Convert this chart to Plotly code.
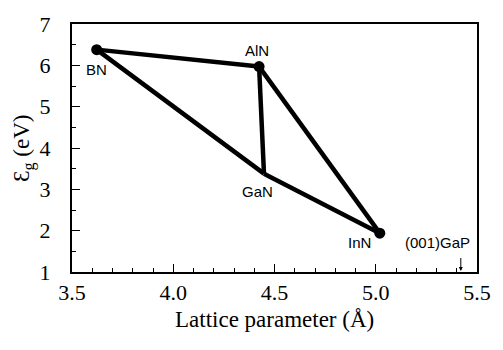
import plotly.graph_objects as go

# Data
materials = ["BN", "AlN", "GaN", "InN"]
lattice = [3.622, 4.424, 4.448, 5.020]
gap = [6.38, 5.97, 3.38, 1.94]
dot_materials = ["BN", "AlN", "InN"]
edges = [("BN", "AlN"), ("AlN", "InN"), ("InN", "GaN"), ("GaN", "BN"), ("AlN", "GaN")]
gap_substrate_label = "(001)GaP"
gap_substrate_a = 5.42

idx = {m: i for i, m in enumerate(materials)}

fig = go.Figure()
ex, ey = [], []
for a, b in edges:
    ex += [lattice[idx[a]], lattice[idx[b]], None]
    ey += [gap[idx[a]], gap[idx[b]], None]
fig.add_trace(go.Scatter(x=ex, y=ey, mode="lines",
                         line=dict(color="black", width=4.5), showlegend=False,
                         hoverinfo="skip"))
fig.add_trace(go.Scatter(x=[lattice[idx[m]] for m in dot_materials],
                         y=[gap[idx[m]] for m in dot_materials],
                         mode="markers", marker=dict(color="black", size=11),
                         showlegend=False))

label_shift = {"BN": (0, -20), "AlN": (-2, 16), "GaN": (-6, -18), "InN": (-20, -9)}
for m in materials:
    dx, dy = label_shift[m]
    fig.add_annotation(x=lattice[idx[m]], y=gap[idx[m]], text=m, showarrow=False,
                       xshift=dx, yshift=dy,
                       font=dict(family="Liberation Sans, Arial", size=15, color="black"))

fig.add_annotation(x=gap_substrate_a, y=1, ax=0, ay=-17, text=" ", showarrow=True,
                   arrowhead=2, arrowsize=0.8, arrowwidth=1, arrowcolor="black",
                   standoff=1, font=dict(size=2))
fig.add_annotation(x=gap_substrate_a, y=1, text=gap_substrate_label, showarrow=False,
                   xshift=-23, yshift=30,
                   font=dict(family="Liberation Sans, Arial", size=15, color="black"))

serif = "Liberation Serif, Times New Roman, serif"
fig.update_xaxes(range=[3.5, 5.5], tickvals=[3.5, 4.0, 4.5, 5.0, 5.5],
                 ticktext=["3.5", "4.0", "4.5", "5.0", "5.5"],
                 ticks="inside", ticklen=8, tickwidth=1, tickcolor="black",
                 minor=dict(dtick=0.1, ticks="inside", ticklen=4, tickcolor="black"),
                 showline=True, linecolor="black", linewidth=2, mirror=True,
                 showgrid=False, zeroline=False,
                 tickfont=dict(family=serif, size=22, color="black"))
fig.update_yaxes(range=[1, 7], tickvals=[1, 2, 3, 4, 5, 6, 7],
                 ticks="inside", ticklen=8, tickwidth=1, tickcolor="black",
                 minor=dict(dtick=0.5, ticks="inside", ticklen=4, tickcolor="black"),
                 showline=True, linecolor="black", linewidth=2, mirror=True,
                 showgrid=False, zeroline=False, ticklabelstandoff=15,
                 tickfont=dict(family=serif, size=22, color="black"))

fig.add_annotation(xref="paper", yref="paper", x=0.5, y=-0.19, yanchor="middle",
                   text="Lattice parameter (Å)", showarrow=False,
                   font=dict(family=serif, size=23, color="black"))
fig.add_annotation(xref="paper", yref="paper", x=-0.121, y=0.5, xanchor="center",
                   yanchor="middle", textangle=-90,
                   text="Ɛ<sub>g</sub> (eV)", showarrow=False,
                   font=dict(family=serif, size=23, color="black"))

fig.update_layout(width=503, height=350, margin=dict(l=72, r=17, t=15, b=78),
                  plot_bgcolor="white", paper_bgcolor="white")
fig.write_html("out.html")
